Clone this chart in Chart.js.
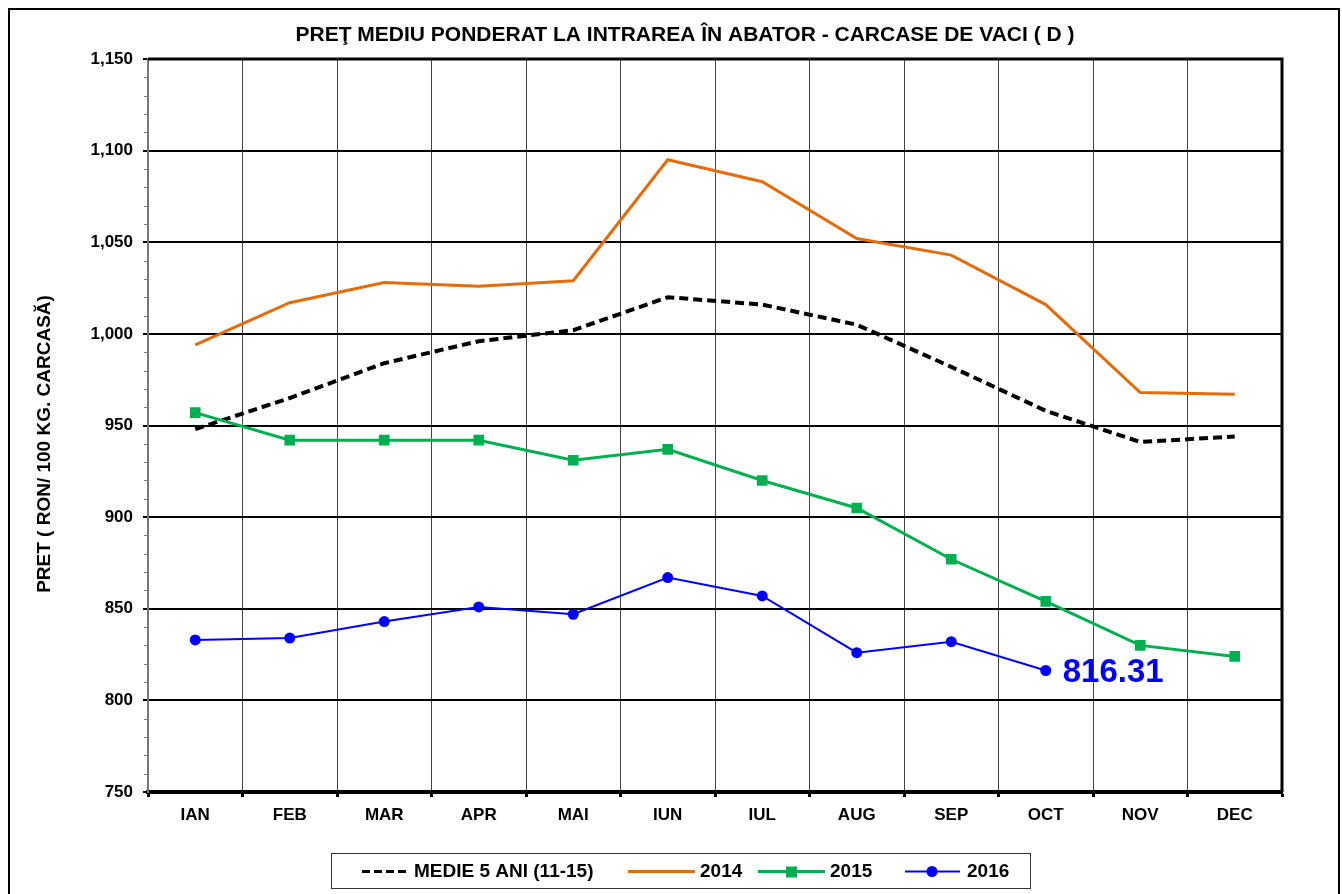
<!DOCTYPE html>
<html>
<head>
<meta charset="utf-8">
<script src="https://cdn.jsdelivr.net/npm/chart.js@4/dist/chart.umd.min.js"></script>
<style>
html,body{margin:0;padding:0;background:#fff;}
#wrap{position:relative;width:1342px;height:894px;}
canvas{display:block;}
</style>
</head>
<body>
<div id="wrap"><canvas id="c" width="1342" height="894"></canvas></div>
<script>
const months = ['IAN','FEB','MAR','APR','MAI','IUN','IUL','AUG','SEP','OCT','NOV','DEC'];
const medie5 = [948, 965, 984, 996, 1002, 1020, 1016, 1005, 982, 958, 941, 944];
const y2014 = [994, 1017, 1028, 1026, 1029, 1095, 1083, 1052, 1043, 1016, 968, 967];
const y2015 = [957, 942, 942, 942, 931, 937, 920, 905, 877, 854, 830, 824];
const y2016 = [833, 834, 843, 851, 847, 867, 857, 826, 832, 816.31, null, null];
const seriesNames = ['MEDIE 5 ANI (11-15)', '2014', '2015', '2016'];
const titleText = 'PREŢ MEDIU PONDERAT LA INTRAREA ÎN ABATOR - CARCASE DE VACI ( D )';
const yTitle = 'PRET ( RON/ 100 KG. CARCASĂ)';
const lastLabel = '816.31';

const FONT = '"Liberation Sans", Arial, sans-serif';

const decor = {
  id: 'decor',
  beforeDraw(chart) {
    const ctx = chart.ctx;
    ctx.save();
    ctx.fillStyle = '#fff';
    ctx.fillRect(0, 0, chart.width, chart.height);
    ctx.restore();
  },
  afterDraw(chart) {
    const ctx = chart.ctx;
    const a = chart.chartArea;
    const ys = chart.scales.y;
    ctx.save();
    // outer border
    ctx.strokeStyle = '#000';
    ctx.lineWidth = 2;
    ctx.strokeRect(9, 9, 1330, 900);
    // plot frame top and right
    ctx.lineWidth = 3;
    ctx.beginPath();
    ctx.moveTo(a.left, a.top); ctx.lineTo(a.right, a.top);
    ctx.moveTo(a.right, a.top - 1.5); ctx.lineTo(a.right, a.bottom);
    ctx.stroke();
    // minor ticks on y axis
    ctx.strokeStyle = '#777';
    ctx.lineWidth = 1;
    ctx.beginPath();
    for (let v = ys.min; v <= ys.max; v += 10) {
      if (v % 50 === 0) continue;
      const y = Math.round(ys.getPixelForValue(v)) + 0.5;
      ctx.moveTo(a.left - 4, y); ctx.lineTo(a.left, y);
    }
    ctx.stroke();
    // title
    ctx.fillStyle = '#000';
    ctx.font = 'bold 21px ' + FONT;
    ctx.textAlign = 'center';
    ctx.textBaseline = 'middle';
    ctx.fillText(titleText, 685, 35);
    // y axis title
    ctx.save();
    ctx.translate(45, 444);
    ctx.rotate(-Math.PI / 2);
    ctx.font = 'bold 19px ' + FONT;
    ctx.fillText(yTitle, 0, 0);
    ctx.restore();
    // last value label
    const meta = chart.getDatasetMeta(3);
    let li = -1;
    y2016.forEach((v, i) => { if (v !== null) li = i; });
    const pt = meta.data[li];
    ctx.fillStyle = '#0000FF';
    ctx.font = 'bold 33px ' + FONT;
    ctx.textAlign = 'left';
    ctx.textBaseline = 'middle';
    ctx.fillText(lastLabel, pt.x + 17, pt.y + 2);
    // legend
    const lx = 331, ly = 853, lw = 699, lh = 35;
    ctx.strokeStyle = '#333';
    ctx.lineWidth = 1;
    ctx.strokeRect(lx + 0.5, ly + 0.5, lw, lh);
    const cy = ly + lh / 2 + 1;
    ctx.font = 'bold 19px ' + FONT;
    ctx.fillStyle = '#000';
    ctx.textBaseline = 'middle';
    // item 1
    ctx.strokeStyle = '#000'; ctx.lineWidth = 3; ctx.setLineDash([8, 4]);
    ctx.beginPath(); ctx.moveTo(362, cy); ctx.lineTo(408, cy); ctx.stroke();
    ctx.setLineDash([]);
    ctx.fillText(seriesNames[0], 414, cy);
    // item 2
    ctx.strokeStyle = '#E46C0A'; ctx.lineWidth = 3;
    ctx.beginPath(); ctx.moveTo(628, cy); ctx.lineTo(695, cy); ctx.stroke();
    ctx.fillStyle = '#000';
    ctx.fillText(seriesNames[1], 700, cy);
    // item 3
    ctx.strokeStyle = '#00B050'; ctx.lineWidth = 3;
    ctx.beginPath(); ctx.moveTo(758, cy); ctx.lineTo(825, cy); ctx.stroke();
    ctx.fillStyle = '#00B050'; ctx.fillRect(786, cy - 5, 11, 11);
    ctx.fillStyle = '#000';
    ctx.fillText(seriesNames[2], 830, cy);
    // item 4
    ctx.strokeStyle = '#0000FF'; ctx.lineWidth = 2;
    ctx.beginPath(); ctx.moveTo(905, cy); ctx.lineTo(960, cy); ctx.stroke();
    ctx.fillStyle = '#0000FF'; ctx.beginPath(); ctx.arc(932, cy, 5.5, 0, Math.PI * 2); ctx.fill();
    ctx.fillStyle = '#000';
    ctx.fillText(seriesNames[3], 967, cy);
    ctx.restore();
  }
};

new Chart(document.getElementById('c'), {
  type: 'line',
  data: {
    labels: months,
    datasets: [
      { label: seriesNames[0], data: medie5, borderColor: '#000', borderWidth: 4, borderDash: [9, 5], pointRadius: 0, tension: 0, order: 4 },
      { label: seriesNames[1], data: y2014, borderColor: '#E46C0A', borderWidth: 3, pointRadius: 0, tension: 0, order: 3 },
      { label: seriesNames[2], data: y2015, borderColor: '#00B050', backgroundColor: '#00B050', borderWidth: 3, pointStyle: 'rect', pointRadius: 7.5, pointBorderWidth: 0, tension: 0, order: 2 },
      { label: seriesNames[3], data: y2016, borderColor: '#0000FF', backgroundColor: '#0000FF', borderWidth: 2, pointStyle: 'circle', pointRadius: 5.5, pointBorderWidth: 0, tension: 0, spanGaps: false, order: 1 }
    ]
  },
  options: {
    responsive: false,
    animation: false,
    devicePixelRatio: 1,
    layout: { padding: { left: 0, top: 59, right: 60, bottom: 52 } },
    plugins: { legend: { display: false }, title: { display: false }, tooltip: { enabled: false } },
    scales: {
      x: {
        type: 'category',
        offset: true,
        grid: { offset: true, color: '#444', lineWidth: 1, drawTicks: true, tickLength: 5, tickColor: '#000', tickWidth: 3 },
        border: { display: true, color: '#000', width: 4 },
        ticks: { color: '#000', font: { family: FONT, size: 17, weight: 'bold' }, padding: 8, maxRotation: 0 },
        afterFit(s) { s.height = 50; }
      },
      y: {
        min: 750, max: 1150,
        ticks: { stepSize: 50, color: '#000', font: { family: FONT, size: 17, weight: 'bold' }, padding: 10,
          callback: v => v.toLocaleString('en-US') },
        grid: { color: '#000', lineWidth: 2, tickLength: 5, tickColor: '#000', tickWidth: 2 },
        border: { display: true, color: '#777', width: 2 },
        afterFit(s) { s.width = 148; }
      }
    }
  },
  plugins: [decor]
});
</script>
</body>
</html>
